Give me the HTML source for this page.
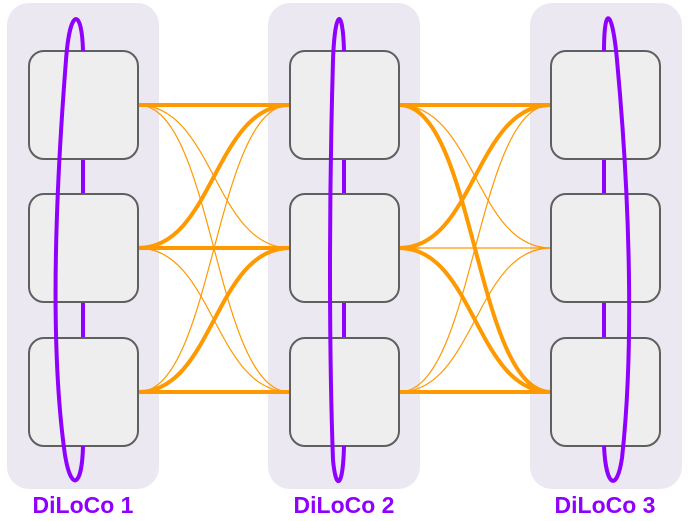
<!DOCTYPE html>
<html><head><meta charset="utf-8"><style>
html,body{margin:0;padding:0;background:#fff;width:691px;height:521px;overflow:hidden}
</style></head><body>
<svg width="691" height="521" viewBox="0 0 691 521" xmlns="http://www.w3.org/2000/svg">
<g fill="#ebe8f2">
<rect x="7" y="3" width="152" height="486" rx="22"/>
<rect x="268" y="3" width="152" height="486" rx="22"/>
<rect x="530" y="3" width="152" height="486" rx="22"/>
</g>
<g stroke="#9000ff" stroke-width="4" fill="none">
<line x1="83" y1="50" x2="83" y2="447"/>
<line x1="344" y1="50" x2="344" y2="447"/>
<line x1="604" y1="50" x2="604" y2="447"/>
</g>
<g fill="none" stroke="#ff9900">
<g stroke-width="4">
<path d="M138,105 L290,105"/><path d="M138,248 L290,248"/><path d="M138,392 L290,392"/>
<path d="M138,248 C214,248 214,105 290,105"/>
<path d="M138,392 C214,392 214,248 290,248"/>
<path d="M399,105 L551,105"/><path d="M399,392 L551,392"/>
<path d="M399,105 C475,105 475,392 551,392"/>
<path d="M399,248 C475,248 475,105 551,105"/>
<path d="M399,248 C475,248 475,392 551,392"/>
</g>
<g stroke-width="1.2">
<path d="M138,105 C214,105 214,248 290,248"/>
<path d="M138,105 C214,105 214,392 290,392"/>
<path d="M138,248 C214,248 214,392 290,392"/>
<path d="M138,392 C214,392 214,105 290,105"/>
<path d="M399,248 L551,248"/>
<path d="M399,105 C475,105 475,248 551,248"/>
<path d="M399,392 C475,392 475,105 551,105"/>
<path d="M399,392 C475,392 475,248 551,248"/>
</g>
</g>
<g fill="#eeeeee" stroke="#5f5f5f" stroke-width="2">
<rect x="29" y="51" width="109" height="108" rx="15"/>
<rect x="29" y="194" width="109" height="108" rx="15"/>
<rect x="29" y="338" width="109" height="108" rx="15"/>
<rect x="290" y="51" width="109" height="108" rx="15"/>
<rect x="290" y="194" width="109" height="108" rx="15"/>
<rect x="290" y="338" width="109" height="108" rx="15"/>
<rect x="551" y="51" width="109" height="108" rx="15"/>
<rect x="551" y="194" width="109" height="108" rx="15"/>
<rect x="551" y="338" width="109" height="108" rx="15"/>
</g>
<g stroke="#9000ff" stroke-width="4" fill="none">
<path d="M83,51 C82,8 70,6 66,60 C55,200 50,350 65,455 C71,492 82,488 83,446"/>
<path d="M344,51 C343,8 335,6 333,60 C329,200 329,350 333,460 C336,492 343,488 344,446"/>
<path d="M604,51 C604,6 612,6 617,60 C630,200 634,350 622,458 C617,492 606,488 604,446"/>
</g>
<g font-family="Liberation Sans, sans-serif" font-weight="bold" font-size="23" fill="#9000ff" text-anchor="middle">
<text x="83" y="513">DiLoCo 1</text>
<text x="344" y="513">DiLoCo 2</text>
<text x="605" y="513">DiLoCo 3</text>
</g>
</svg>
</body></html>
